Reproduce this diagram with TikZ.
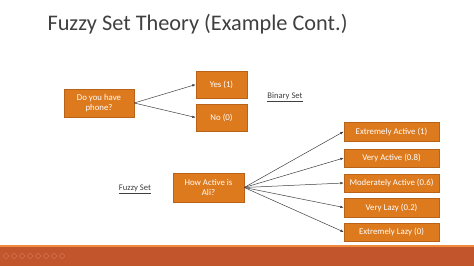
\documentclass[tikz,border=0pt]{standalone}
\usepackage{fontspec}
\setmainfont{Carlito}
\usetikzlibrary{arrows.meta}

\definecolor{boxorange}{HTML}{DE7A1E}
\definecolor{boxedge}{HTML}{B8621A}
\definecolor{barorange}{HTML}{C2552C}
\definecolor{barline}{HTML}{EE8A3C}
\definecolor{titlegray}{HTML}{404040}

\tikzset{
    choice/.style={draw=boxedge,fill=boxorange,text=white,
        font=\fontsize{8.8}{10}\selectfont,align=center,inner sep=1pt},
    setlabel/.style={text=titlegray,font=\fontsize{8.6}{10}\selectfont},
    link/.style={-{Latex[length=3.5pt,width=2.5pt]},draw=black!75,line width=0.5pt}
}

\begin{document}
\begin{tikzpicture}[x=1pt,y=-1pt]

\useasboundingbox (0,0) rectangle (474,266);
\fill[white] (0,0) rectangle (474,266);

% Title
\node[anchor=west,text=titlegray,font=\fontsize{22.3}{26}\selectfont] (title)
    at (44,24) {Fuzzy Set Theory (Example Cont.)};

% Binary set
\node[choice,minimum width=70,minimum height=28] (phone)
    at (99,103) {Do you have\\phone?};
\node[choice,minimum width=51,minimum height=27] (yes)
    at (221.5,84.5) {Yes (1)};
\node[choice,minimum width=51,minimum height=27] (no)
    at (221.5,117.5) {No (0)};
\node[setlabel] (binary) at (285,97) {\underline{Binary Set}};

\draw[link] (phone.east) -- (yes.west);
\draw[link] (phone.east) -- (no.west);

% Fuzzy set
\node[choice,minimum width=71,minimum height=29] (ali)
    at (208.5,187.5) {How Active is\\Ali?};
\node[setlabel] (fuzzy) at (135,189) {\underline{Fuzzy Set}};

\foreach \name/\y/\txt in {
    xactive/131.5/Extremely Active (1),
    vactive/158/Very Active (0.8),
    mactive/183/Moderately Active (0.6),
    vlazy/207.5/Very Lazy (0.2),
    xlazy/232/Extremely Lazy (0)}{
    \node[choice,minimum width=95,minimum height=18.5] (\name)
        at (391.5,\y) {\txt};
    \draw[link] (ali.east) -- (\name.west);
}

% Bottom bar
\fill[barline] (0,244.5) rectangle (474,247);
\fill[barorange] (0,247) rectangle (474,266);
\foreach \x in {6,14,22,30,38,46,54,62}{
    \draw[barorange!75!white,line width=0.4pt] (\x,256) circle (2.5);
}

\end{tikzpicture}
\end{document}
